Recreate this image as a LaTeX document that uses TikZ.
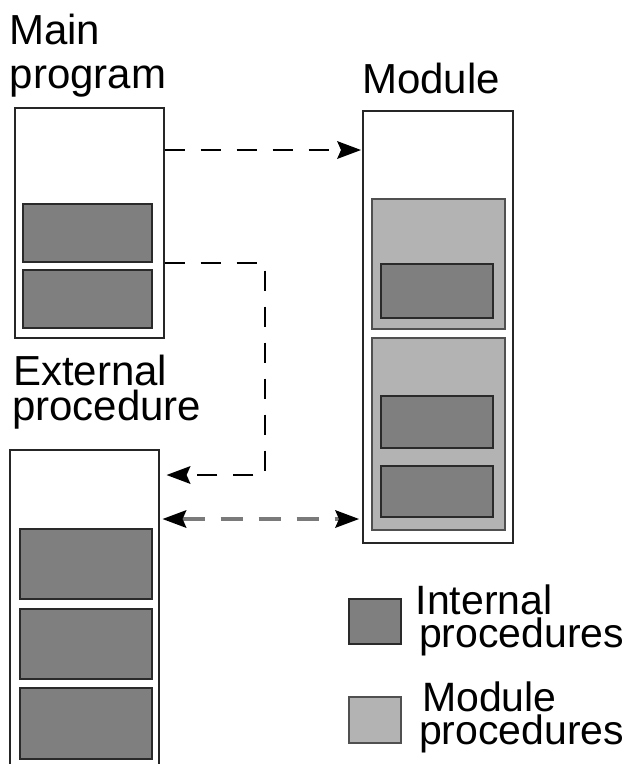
\documentclass[tikz,border=0pt]{standalone}
\usepackage{fontspec}
\setmainfont{Liberation Sans}
\usetikzlibrary{arrows.meta}
\definecolor{darkfill}{HTML}{7F7F7F}
\definecolor{lightfill}{HTML}{B3B3B3}
\definecolor{darkedge}{HTML}{2A2A2A}
\definecolor{lightedge}{HTML}{505050}
\definecolor{grayline}{HTML}{7A7A7A}
\newcommand{\twolines}[3]{\vtop{\baselineskip=#1\lineskiplimit=-100pt\lineskip=0pt\hbox{#2}\hbox{#3}}}
\tikzset{
  outerbox/.style={draw=black!85, line width=1.6pt, fill=white, inner sep=0pt, anchor=north west},
  internalproc/.style={draw=darkedge, line width=1.8pt, fill=darkfill, inner sep=0pt, anchor=north west},
  moduleproc/.style={draw=lightedge, line width=1.8pt, fill=lightfill, inner sep=0pt, anchor=north west},
  lbl/.style={anchor=base west, inner sep=0pt, font=\fontsize{42}{42}\selectfont},
  leglbl/.style={anchor=base west, inner sep=0pt, font=\fontsize{41}{41}\selectfont},
  conn/.style={line width=2pt, draw=black, dash pattern=on 20pt off 16pt},
  conngray/.style={line width=3.2pt, draw=grayline, dash pattern=on 22pt off 16pt},
  tip/.tip={Stealth[length=24pt, width=18pt, inset=4pt, fill=black, color=black, line width=0pt]}
}
\begin{document}
\begin{tikzpicture}[x=1pt, y=-1pt]
\clip (0,0) rectangle (630,764);
\useasboundingbox (0,0) rectangle (630,764);

% Labels
\node[lbl] (tmain) at (9,44) {\twolines{44pt}{Main}{\kern0.5pt program}};
\node[lbl] (tmodule) at (362,93) {Module};
\node[lbl] (text) at (13,385) {\twolines{35pt}{External}{\kern-1pt procedure}};

% Main program
\node[outerbox, minimum width=149pt, minimum height=230pt] (main) at (14,107) {};
\node[internalproc, minimum width=129pt, minimum height=58pt] (mainA) at (22,203) {};
\node[internalproc, minimum width=129pt, minimum height=58pt] (mainB) at (22,269) {};

% Module
\node[outerbox, minimum width=150pt, minimum height=432pt] (module) at (362,110) {};
\node[moduleproc, minimum width=133pt, minimum height=130pt] (modP1) at (371,198) {};
\node[internalproc, minimum width=112pt, minimum height=54pt] (modP1a) at (380,263) {};
\node[moduleproc, minimum width=133pt, minimum height=192pt] (modP2) at (371,337) {};
\node[internalproc, minimum width=112pt, minimum height=52pt] (modP2a) at (380,395) {};
\node[internalproc, minimum width=112pt, minimum height=51pt] (modP2b) at (380,465) {};

% External procedure
\node[outerbox, minimum width=149pt, minimum height=340pt] (ext) at (9,449) {};
\node[internalproc, minimum width=132pt, minimum height=70pt] (extA) at (19,528) {};
\node[internalproc, minimum width=132pt, minimum height=70pt] (extB) at (19,608) {};
\node[internalproc, minimum width=132pt, minimum height=71pt] (extC) at (19,687) {};

% Connectors
\draw[conn, -tip] (main.east |- 0,150) -- ([xshift=-1pt]module.west |- 0,150);
\coordinate (bend) at (265,475);
\draw[conn, -tip] (main.east |- 0,263) -| (bend) -- ([xshift=7pt]ext.east |- bend);
\draw[conngray, tip-tip] ([xshift=3pt]ext.east |- 0,519) -- ([xshift=-3pt]module.west |- 0,519);

% Legend
\node[internalproc, minimum width=52pt, minimum height=45pt] (legint) at (348,598) {};
\node[leglbl] (tint) at (415.5,614) {\twolines{33pt}{Internal}{\kern3.5pt procedures}};
\node[moduleproc, minimum width=52pt, minimum height=46pt] (legmod) at (348,696) {};
\node[leglbl] (tmod) at (422,711) {\twolines{33pt}{Module}{\kern-3pt procedures}};
\end{tikzpicture}
\end{document}
